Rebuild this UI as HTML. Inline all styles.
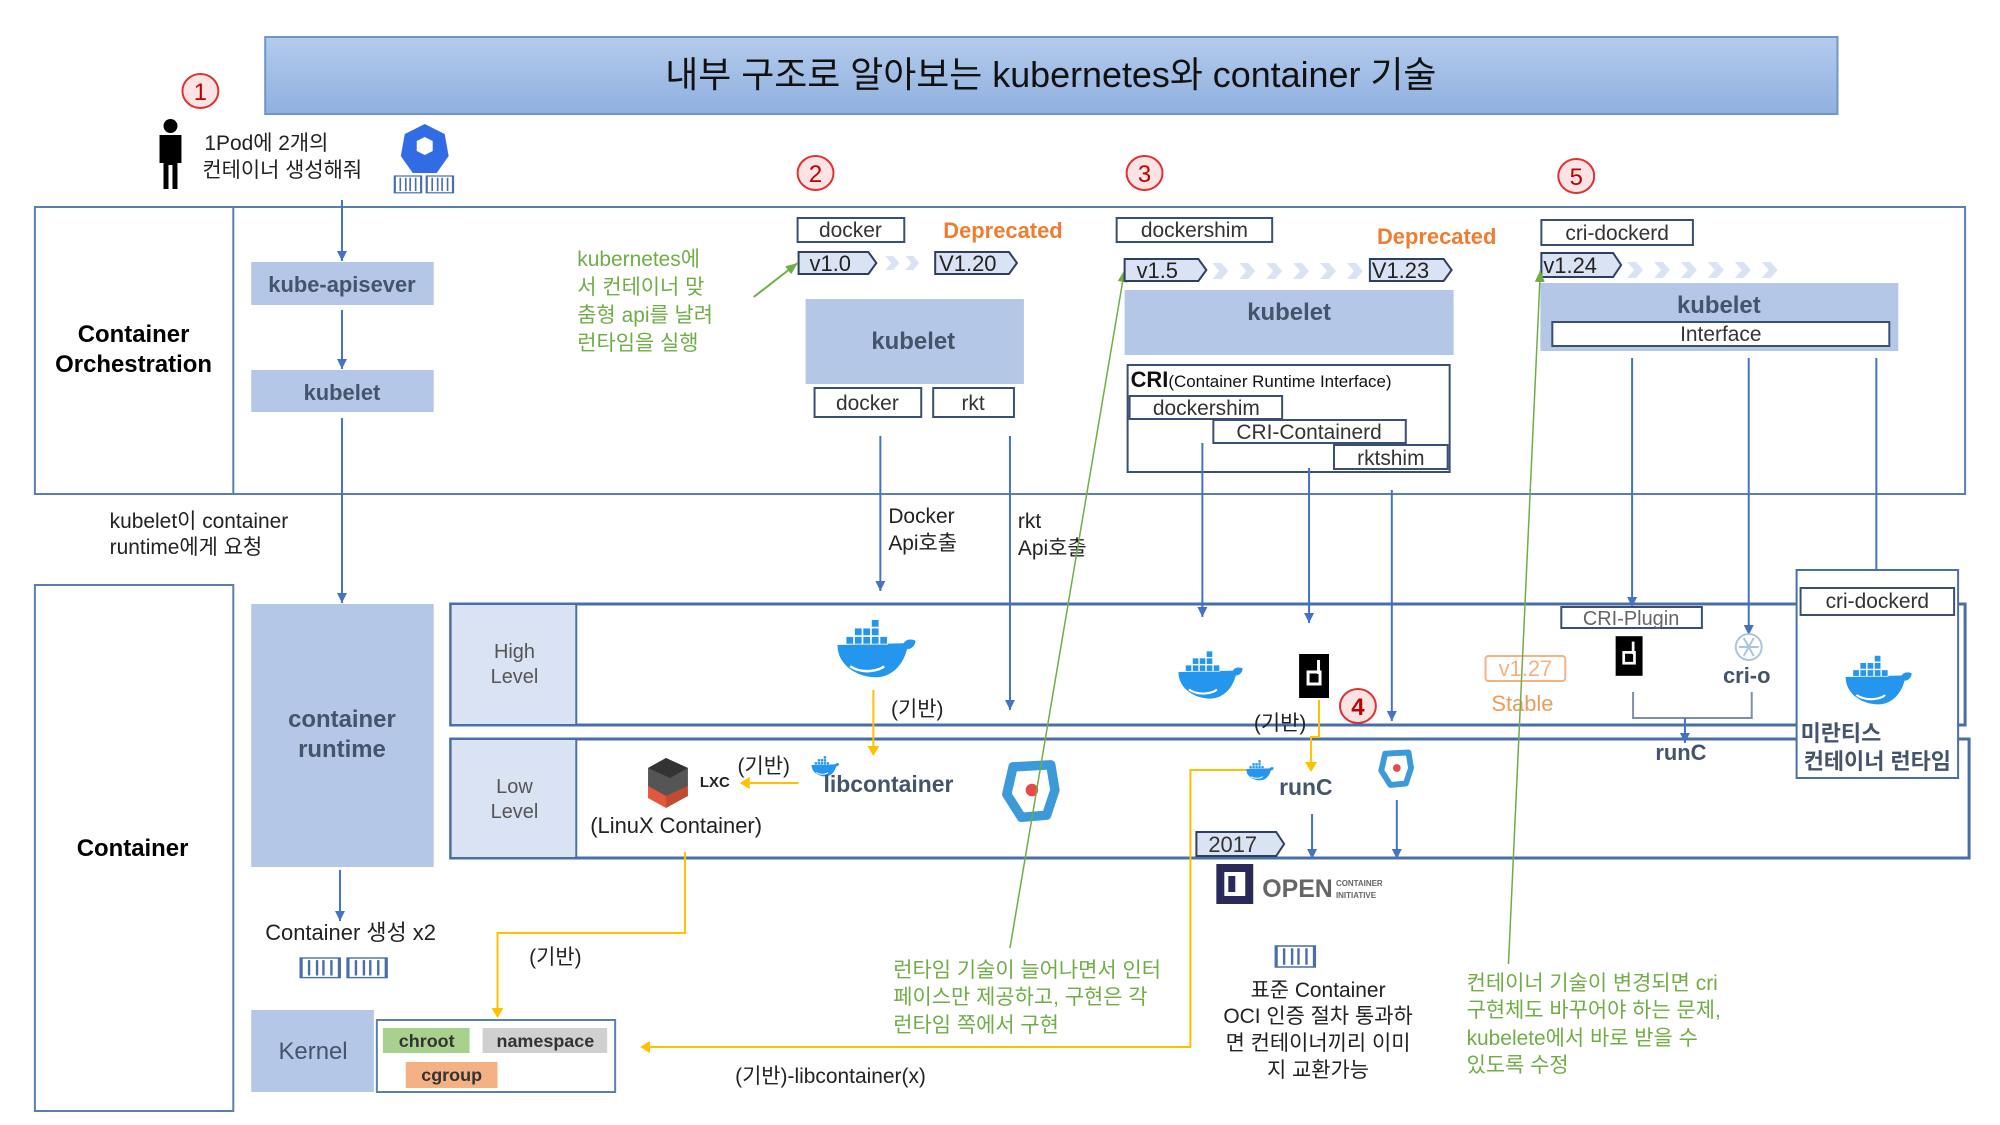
<!DOCTYPE html>
<html><head><meta charset="utf-8"><style>
html,body{margin:0;padding:0;background:#fff;}
svg{display:block;}
text{font-family:"Liberation Sans","Noto Sans CJK KR",sans-serif;}
</style></head><body>
<svg width="2000" height="1125" viewBox="0 0 2000 1125" xmlns="http://www.w3.org/2000/svg">
<defs>
<linearGradient id="tg" x1="0" y1="0" x2="0" y2="1"><stop offset="0" stop-color="#b4cbeb"/><stop offset="1" stop-color="#8fb0e0"/></linearGradient>
<marker id="ab" markerWidth="10" markerHeight="10" refX="10" refY="5" orient="auto" markerUnits="userSpaceOnUse"><path d="M0,0 L10,5 L0,10 Z" fill="#4472c4"/></marker>
<marker id="ag" markerWidth="12" markerHeight="12" refX="12" refY="6" orient="auto" markerUnits="userSpaceOnUse"><path d="M0,1 L12,6 L0,11 Z" fill="#70ad47"/></marker>
<g id="whale"><path d="M-40,0 C-40,25 -15,38 5,38 C25,38 38,22 42,5 C48,5 52,0 52,-5 C46,-8 40,-6 38,-2 L-40,0 Z" fill="#2496ed"/>
<g fill="#2496ed" stroke="#fff" stroke-width="1"><rect x="-30" y="-10" width="9" height="9"/><rect x="-20" y="-10" width="9" height="9"/><rect x="-10" y="-10" width="9" height="9"/><rect x="0" y="-10" width="9" height="9"/><rect x="10" y="-10" width="9" height="9"/><rect x="-20" y="-20" width="9" height="9"/><rect x="-10" y="-20" width="9" height="9"/><rect x="0" y="-20" width="9" height="9"/><rect x="0" y="-30" width="9" height="9"/></g>
<path d="M-25,25 C-10,35 10,30 15,25" stroke="#fff" stroke-width="3" fill="none"/></g>
<g id="cd"><rect x="-15" y="-22" width="30" height="44" fill="#000"/><rect x="-6" y="-4" width="12" height="12" fill="none" stroke="#fff" stroke-width="3"/><rect x="3" y="-16" width="3" height="14" fill="#fff"/></g>
<g id="crun"><path d="M-18,-22 L18,-24 L22,0 L14,24 L-10,26 L-24,4 Z" fill="none" stroke="#3c9ad8" stroke-width="9" stroke-linejoin="round"/><circle cx="0" cy="0" r="6" fill="#e84a4a"/></g>
<g id="box2"><rect x="0" y="0" width="24" height="28" fill="none" stroke="#4a6fa8" stroke-width="2"/><path d="M5,3 V25 M10,3 V25 M14,3 V25 M19,3 V25" stroke="#4a6fa8" stroke-width="1.5"/></g>
</defs>
<g transform="scale(0.997,1)">
<!-- Title -->
<rect x="266" y="37" width="1577" height="77" fill="url(#tg)" stroke="#6f95c9" stroke-width="2"/>
<text x="1054" y="87" font-size="36" text-anchor="middle" fill="#111">내부 구조로 알아보는 kubernetes와 container 기술</text>

<!-- Circles -->
<g fill="#fde4e4" stroke="#e03030" stroke-width="2">
<ellipse cx="201" cy="91" rx="18" ry="17"/><ellipse cx="818" cy="173" rx="18" ry="17"/><ellipse cx="1148" cy="173" rx="18" ry="17"/><ellipse cx="1581" cy="176" rx="18" ry="17"/><ellipse cx="1362" cy="706" rx="18" ry="17"/></g>
<g font-size="24" fill="#c00000" text-anchor="middle"><text x="201" y="100">1</text><text x="818" y="182">2</text><text x="1148" y="182">3</text><text x="1581" y="185">5</text><text x="1362" y="715" font-weight="bold">4</text></g>

<!-- person -->
<circle cx="171" cy="126" r="7" fill="#000"/>
<path d="M160,135 h22 v28 h-4 v26 h-5 v-24 h-4 v24 h-5 v-26 h-4 z" fill="#000"/>
<text x="205" y="150" font-size="21" fill="#222">1Pod에 2개의</text>
<text x="203" y="177" font-size="21" fill="#222">컨테이너 생성해줘</text>
<path d="M426,124 l20,10 l4,22 l-12,17 h-24 l-12,-17 l4,-22 z" fill="#326ce5"/>
<path d="M418,141 l8,-4 l8,4 v10 l-8,4 l-8,-4 z" fill="#fff"/>
<use href="#box2" transform="translate(396,176) scale(1.1,0.6)"/><use href="#box2" transform="translate(428,176) scale(1.1,0.6)"/>

<!-- Orchestration box -->
<rect x="35" y="207" width="1936" height="287" fill="none" stroke="#5b7fb0" stroke-width="2"/>
<line x1="234" y1="207" x2="234" y2="494" stroke="#5b7fb0" stroke-width="2"/>
<text x="134" y="342" font-size="24" font-weight="bold" text-anchor="middle">Container</text>
<text x="134" y="372" font-size="24" font-weight="bold" text-anchor="middle">Orchestration</text>

<rect x="35" y="585" width="199" height="526" fill="none" stroke="#5b7fb0" stroke-width="2"/>
<text x="133" y="856" font-size="24" font-weight="bold" text-anchor="middle">Container</text>

<g fill="#b4c7e7"><rect x="252" y="262" width="183" height="43"/><rect x="252" y="370" width="183" height="42"/><rect x="252" y="604" width="183" height="263"/><rect x="252" y="1010" width="123" height="82"/></g>
<g fill="#44546a" font-weight="bold" text-anchor="middle"><text x="343" y="292" font-size="22">kube-apisever</text><text x="343" y="400" font-size="22">kubelet</text><text x="343" y="727" font-size="24">container</text><text x="343" y="757" font-size="24">runtime</text><text x="314" y="1059" font-size="24" font-weight="normal">Kernel</text></g>
<g stroke="#4472c4" stroke-width="2" fill="none">
<line x1="343" y1="200" x2="343" y2="261" marker-end="url(#ab)"/>
<line x1="343" y1="310" x2="343" y2="369" marker-end="url(#ab)"/>
<line x1="343" y1="418" x2="343" y2="603" marker-end="url(#ab)"/>
<line x1="341" y1="870" x2="341" y2="921" marker-end="url(#ab)"/>
</g>
<text x="110" y="528" font-size="21" fill="#222">kubelet이 container</text>
<text x="110" y="554" font-size="21" fill="#222">runtime에게 요청</text>
<text x="266" y="940" font-size="22" fill="#222">Container 생성 x2</text>
<use href="#box2" transform="translate(302,958) scale(1.6,0.7)"/><use href="#box2" transform="translate(349,958) scale(1.6,0.7)"/>

<rect x="378" y="1020" width="239" height="72" fill="#fff" stroke="#5b7fb0" stroke-width="2"/>
<rect x="384" y="1028" width="87" height="25" fill="#a9d18e"/><rect x="484" y="1028" width="125" height="25" fill="#d0d0d0"/><rect x="407" y="1062" width="92" height="26" fill="#f4b183"/>
<g font-size="18" font-weight="bold" text-anchor="middle" fill="#333"><text x="428" y="1047">chroot</text><text x="547" y="1047">namespace</text><text x="453" y="1081">cgroup</text></g>

<rect x="452" y="604" width="1519" height="121" fill="none" stroke="#4a6fa8" stroke-width="3"/>
<rect x="453" y="605" width="124" height="119" fill="#dae3f3"/>
<line x1="578" y1="604" x2="578" y2="725" stroke="#4a6fa8" stroke-width="2"/>
<rect x="452" y="739" width="1523" height="119" fill="none" stroke="#4a6fa8" stroke-width="3"/>
<rect x="453" y="740" width="124" height="117" fill="#dae3f3"/>
<line x1="578" y1="739" x2="578" y2="858" stroke="#4a6fa8" stroke-width="2"/>
<g font-size="20" fill="#555" text-anchor="middle"><text x="516" y="658">High</text><text x="516" y="683">Level</text><text x="516" y="793">Low</text><text x="516" y="818">Level</text></g>

<!-- Section 2 -->
<g fill="#fff" stroke="#3a4f74" stroke-width="2"><rect x="800" y="218" width="107" height="24"/><rect x="817" y="388" width="107" height="29"/><rect x="936" y="388" width="81" height="29"/></g>
<g font-size="21" fill="#333" text-anchor="middle"><text x="853" y="237">docker</text><text x="870" y="410">docker</text><text x="976" y="410">rkt</text></g>
<text x="1006" y="238" font-size="22" font-weight="bold" fill="#ed7d31" text-anchor="middle">Deprecated</text>
<path d="M801,252 h70 l8,11 l-8,11 h-70 z" fill="#dae3f3" stroke="#2f3f5f" stroke-width="2"/>
<path d="M938,252 h74 l8,11 l-8,11 h-74 z" fill="#dae3f3" stroke="#2f3f5f" stroke-width="2"/>
<g font-size="22" fill="#222"><text x="812" y="271">v1.0</text><text x="942" y="271">V1.20</text></g>
<g fill="#dae3f3"><path d="M888,256 h8 l6,7 l-6,7 h-8 l6,-7z"/><path d="M908,256 h8 l6,7 l-6,7 h-8 l6,-7z"/></g>
<rect x="808" y="299" width="219" height="85" fill="#b4c7e7"/>
<text x="916" y="349" font-size="24" font-weight="bold" fill="#44546a" text-anchor="middle">kubelet</text>
<g font-size="21" fill="#70ad47"><text x="579" y="266">kubernetes에</text><text x="579" y="294">서 컨테이너 맞</text><text x="579" y="322">춤형 api를 날려</text><text x="579" y="350">런타임을 실행</text></g>
<line x1="756" y1="297" x2="800" y2="263" stroke="#70ad47" stroke-width="2" marker-end="url(#ag)"/>
<g stroke="#4472c4" stroke-width="2"><line x1="883" y1="436" x2="883" y2="591" marker-end="url(#ab)"/><line x1="1013" y1="436" x2="1013" y2="710" marker-end="url(#ab)"/></g>
<g font-size="21" fill="#222"><text x="891" y="523">Docker</text><text x="891" y="550">Api호출</text><text x="1021" y="528">rkt</text><text x="1021" y="555">Api호출</text></g>

<use href="#whale" transform="translate(874,645) scale(0.85)"/>
<text x="920" y="716" font-size="21" fill="#222" text-anchor="middle">(기반)</text>
<line x1="876" y1="690" x2="876" y2="752" stroke="#ffc000" stroke-width="2"/><path d="M870,746 h12 l-6,10z" fill="#ffc000"/>
<use href="#whale" transform="translate(826,765) scale(0.3)"/>
<text x="826" y="792" font-size="23" font-weight="bold" fill="#44546a">libcontainer</text>
<g transform="translate(672,780)"><path d="M-22,-12 l18,-10 l22,10 v18 l-18,12 l-22,-10z" fill="#555"/><path d="M-22,-12 l18,-10 l22,10 l-18,10z" fill="#333"/><path d="M-22,6 l18,10 v12 l-18,-10z" fill="#e2583e"/><path d="M-4,16 l22,-10 v10 l-22,12z" fill="#c24a33"/></g>
<text x="702" y="787" font-size="15" font-weight="bold" fill="#222">LXC</text>
<text x="766" y="773" font-size="21" fill="#222" text-anchor="middle">(기반)</text>
<line x1="801" y1="783" x2="750" y2="783" stroke="#ffc000" stroke-width="2"/><path d="M742,783 l10,-6 v12z" fill="#ffc000"/>
<text x="592" y="833" font-size="22" fill="#222">(LinuX Container)</text>
<use href="#crun" transform="translate(1035,790) scale(1.05)"/>
<polyline points="687,852 687,933 499,933 499,1012" fill="none" stroke="#ffc000" stroke-width="2"/><path d="M493,1008 h12 l-6,10z" fill="#ffc000"/>
<text x="557" y="964" font-size="21" fill="#222" text-anchor="middle">(기반)</text>
<polyline points="1250,770 1194,770 1194,1047 652,1047" fill="none" stroke="#ffc000" stroke-width="2"/><path d="M642,1047 l10,-6 v12z" fill="#ffc000"/>
<text x="833" y="1083" font-size="21" fill="#222" text-anchor="middle">(기반)-libcontainer(x)</text>
<g font-size="21" fill="#70ad47"><text x="896" y="977">런타임 기술이 늘어나면서 인터</text><text x="896" y="1004">페이스만 제공하고, 구현은 각</text><text x="896" y="1032">런타임 쪽에서 구현</text></g>
<line x1="1013" y1="948" x2="1128" y2="270" stroke="#70ad47" stroke-width="1.5" marker-end="url(#ag)"/>

<!-- Section 3 -->
<rect x="1120" y="218" width="156" height="24" fill="#fff" stroke="#3a4f74" stroke-width="2"/>
<text x="1198" y="237" font-size="21" fill="#333" text-anchor="middle">dockershim</text>
<text x="1441" y="244" font-size="22" font-weight="bold" fill="#ed7d31" text-anchor="middle">Deprecated</text>
<path d="M1128,259 h74 l8,11 l-8,11 h-74 z" fill="#dae3f3" stroke="#2f3f5f" stroke-width="2"/>
<path d="M1374,259 h74 l8,11 l-8,11 h-74 z" fill="#dae3f3" stroke="#2f3f5f" stroke-width="2"/>
<g font-size="22" fill="#222"><text x="1140" y="278">v1.5</text><text x="1376" y="278">V1.23</text></g>
<g fill="#dae3f3"><path d="M1216,263 h9 l7,8 l-7,8 h-9 l7,-8z"/><path d="M1243,263 h9 l7,8 l-7,8 h-9 l7,-8z"/><path d="M1270,263 h9 l7,8 l-7,8 h-9 l7,-8z"/><path d="M1297,263 h9 l7,8 l-7,8 h-9 l7,-8z"/><path d="M1324,263 h9 l7,8 l-7,8 h-9 l7,-8z"/><path d="M1351,263 h9 l7,8 l-7,8 h-9 l7,-8z"/></g>
<rect x="1128" y="290" width="330" height="65" fill="#b4c7e7"/>
<text x="1293" y="320" font-size="24" font-weight="bold" fill="#44546a" text-anchor="middle">kubelet</text>
<rect x="1131" y="365" width="323" height="107" fill="#fff" stroke="#3a4f74" stroke-width="2"/>
<text x="1134" y="387" font-size="22" font-weight="bold" fill="#111">CRI<tspan font-size="17" font-weight="normal">(Container Runtime Interface)</tspan></text>
<g fill="#fff" stroke="#3a4f74" stroke-width="2"><rect x="1133" y="396" width="153" height="23"/><rect x="1217" y="420" width="193" height="23"/><rect x="1338" y="445" width="114" height="24"/></g>
<g font-size="21" fill="#333" text-anchor="middle"><text x="1210" y="415">dockershim</text><text x="1313" y="439">CRI-Containerd</text><text x="1395" y="465">rktshim</text></g>
<g stroke="#4472c4" stroke-width="2"><line x1="1206" y1="443" x2="1206" y2="617" marker-end="url(#ab)"/><line x1="1313" y1="468" x2="1313" y2="623" marker-end="url(#ab)"/><line x1="1396" y1="490" x2="1396" y2="721" marker-end="url(#ab)"/><line x1="1316" y1="814" x2="1316" y2="859" marker-end="url(#ab)"/><line x1="1401" y1="800" x2="1401" y2="859" marker-end="url(#ab)"/></g>
<use href="#whale" transform="translate(1210,672) scale(0.7)"/>
<use href="#cd" transform="translate(1318,676)"/>
<text x="1284" y="730" font-size="21" fill="#222" text-anchor="middle">(기반)</text>
<polyline points="1323,700 1323,737 1315,737 1315,766" fill="none" stroke="#ffc000" stroke-width="2"/><path d="M1309,762 h12 l-6,10z" fill="#ffc000"/>
<use href="#whale" transform="translate(1262,769) scale(0.3)"/>
<text x="1283" y="795" font-size="23" font-weight="bold" fill="#44546a">runC</text>
<use href="#crun" transform="translate(1401,768) scale(0.65)"/>
<path d="M1200,832 h80 l8,12 l-8,12 h-80 z" fill="#dae3f3" stroke="#2f3f5f" stroke-width="2"/>
<text x="1212" y="852" font-size="22" fill="#333">2017</text>
<rect x="1220" y="864" width="37" height="40" fill="#2a2a5a"/><rect x="1228" y="872" width="21" height="24" fill="#fff"/><rect x="1232" y="876" width="7" height="16" fill="#2a2a5a"/>
<text x="1266" y="897" font-size="25" font-weight="bold" fill="#666">OPEN</text>
<text x="1340" y="886" font-size="8" font-weight="bold" fill="#666">CONTAINER</text><text x="1340" y="898" font-size="8" font-weight="bold" fill="#666">INITIATIVE</text>
<use href="#box2" transform="translate(1280,946) scale(1.6,0.75)"/>
<g font-size="21" fill="#222" text-anchor="middle"><text x="1322" y="997">표준 Container</text><text x="1322" y="1023">OCI 인증 절차 통과하</text><text x="1322" y="1050">면 컨테이너끼리 이미</text><text x="1322" y="1077">지 교환가능</text></g>

<!-- Section 5 -->
<rect x="1546" y="220" width="152" height="25" fill="#fff" stroke="#3a4f74" stroke-width="2"/>
<text x="1622" y="240" font-size="21" fill="#333" text-anchor="middle">cri-dockerd</text>
<path d="M1546,253 h72 l8,12 l-8,12 h-72 z" fill="#dae3f3" stroke="#2f3f5f" stroke-width="2"/>
<text x="1548" y="273" font-size="22" fill="#222">v1.24</text>
<g fill="#dae3f3"><path d="M1632,262 h9 l7,8 l-7,8 h-9 l7,-8z"/><path d="M1659,262 h9 l7,8 l-7,8 h-9 l7,-8z"/><path d="M1686,262 h9 l7,8 l-7,8 h-9 l7,-8z"/><path d="M1713,262 h9 l7,8 l-7,8 h-9 l7,-8z"/><path d="M1740,262 h9 l7,8 l-7,8 h-9 l7,-8z"/><path d="M1767,262 h9 l7,8 l-7,8 h-9 l7,-8z"/></g>
<rect x="1545" y="283" width="359" height="68" fill="#b4c7e7"/>
<text x="1724" y="313" font-size="24" font-weight="bold" fill="#44546a" text-anchor="middle">kubelet</text>
<rect x="1557" y="322" width="338" height="24" fill="#fff" stroke="#3a4f74" stroke-width="2"/>
<text x="1726" y="341" font-size="21" fill="#333" text-anchor="middle">Interface</text>
<g stroke="#4472c4" stroke-width="2"><line x1="1637" y1="358" x2="1637" y2="607" marker-end="url(#ab)"/><line x1="1754" y1="358" x2="1754" y2="635" marker-end="url(#ab)"/><line x1="1882" y1="358" x2="1882" y2="589" marker-end="url(#ab)"/></g>
<rect x="1566" y="607" width="141" height="21" fill="#fff" stroke="#3a4f74" stroke-width="2"/>
<text x="1636" y="625" font-size="20" fill="#666" text-anchor="middle">CRI-Plugin</text>
<use href="#cd" transform="translate(1634,656) scale(0.9)"/>
<g transform="translate(1754,647)" stroke="#aac4e0" stroke-width="2" fill="none"><circle r="13"/><path d="M-10,0 H10 M-5,-9 L5,9 M5,-9 L-5,9"/></g>
<text x="1752" y="683" font-size="22" font-weight="bold" fill="#44546a" text-anchor="middle">cri-o</text>
<polyline points="1638,692 1638,718 1757,718 1757,692" fill="none" stroke="#7f8fa8" stroke-width="2"/>
<line x1="1690" y1="718" x2="1690" y2="743" stroke="#4472c4" stroke-width="2" marker-end="url(#ab)"/>
<text x="1686" y="760" font-size="22" font-weight="bold" fill="#44546a" text-anchor="middle">runC</text>
<rect x="1490" y="656" width="80" height="25" rx="3" fill="#fff" stroke="#f4b183" stroke-width="2"/>
<text x="1530" y="676" font-size="22" fill="#f4b183" text-anchor="middle">v1.27</text>
<text x="1527" y="711" font-size="22" fill="#ed9b5a" text-anchor="middle">Stable</text>
<rect x="1802" y="570" width="162" height="208" fill="#fff" stroke="#4a6fa8" stroke-width="2"/>
<rect x="1806" y="588" width="154" height="27" fill="#fff" stroke="#3a4f74" stroke-width="2"/>
<text x="1883" y="608" font-size="21" fill="#333" text-anchor="middle">cri-dockerd</text>
<use href="#whale" transform="translate(1880,677) scale(0.72)"/>
<text x="1806" y="741" font-size="22" font-weight="bold" fill="#44546a">미란티스</text>
<text x="1883" y="769" font-size="22" font-weight="bold" fill="#44546a" text-anchor="middle">컨테이너 런타임</text>
<line x1="1513" y1="964" x2="1545" y2="270" stroke="#70ad47" stroke-width="1.5" marker-end="url(#ag)"/>
<g font-size="21" fill="#70ad47"><text x="1471" y="990">컨테이너 기술이 변경되면 cri</text><text x="1471" y="1017">구현체도 바꾸어야 하는 문제,</text><text x="1471" y="1045">kubelete에서 바로 받을 수</text><text x="1471" y="1072">있도록 수정</text></g>
</g>
</svg>
</body></html>
